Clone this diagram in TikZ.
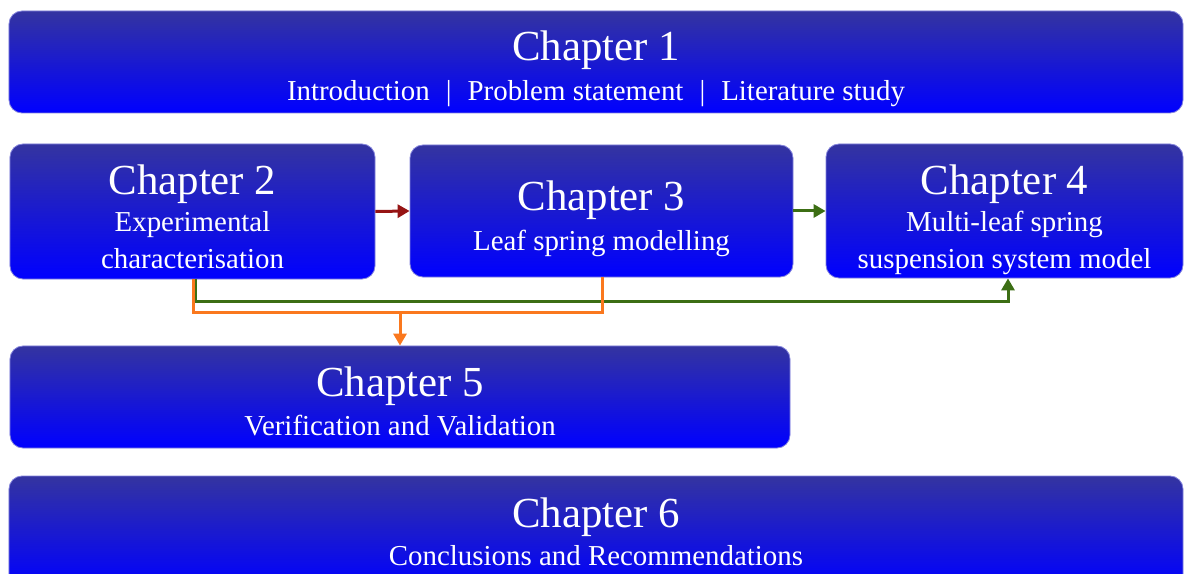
\documentclass[tikz,border=0pt]{standalone}
\usepackage{fontspec}
\setmainfont{Liberation Serif}
\usetikzlibrary{arrows.meta}
\definecolor{boxtop}{RGB}{52,52,160}
\definecolor{boxbot}{RGB}{0,0,255}
\definecolor{boxedge}{RGB}{130,130,220}
\definecolor{arred}{RGB}{150,20,20}
\definecolor{argreen}{RGB}{60,110,20}
\definecolor{arorange}{RGB}{250,120,30}
\newcommand{\chtitle}[2]{{\fontsize{43}{38}\selectfont\rule{0pt}{#1bp}#2}}
\newcommand{\sep}{\hspace{16bp}|\hspace{16bp}}
\begin{document}
\begin{tikzpicture}[x=1bp,y=-1bp,
  chbox/.style={rounded corners=13bp, top color=boxtop, bottom color=boxbot,
    draw=boxedge, line width=0.8bp, text=white, align=center, inner sep=0pt,
    font=\fontsize{29}{37}\selectfont},
  conn/.style={line width=3bp},
  tip/.style={-{Triangle[length=12bp,width=13bp]}}
]
\useasboundingbox (0,0) rectangle (1189,574);
\fill[white] (0,0) rectangle (1189,574);

\node[chbox, minimum width=1174bp, minimum height=102bp] (b1) at (596,62)
  {\chtitle{44}{Chapter 1}\\[3bp]Introduction\sep Problem statement\sep Literature study};
\node[chbox, minimum width=365bp, minimum height=135bp] (b2) at (192.5,211.5)
  {\chtitle{40}{Chapter 2}\\Experimental\\characterisation};
\node[chbox, minimum width=383bp, minimum height=132bp] (b3) at (601.5,211)
  {\chtitle{45}{Chapter 3}\\[3bp]Leaf spring modelling};
\node[chbox, minimum width=357bp, minimum height=134bp] (b4) at (1004.5,211)
  {\chtitle{47}{Chapter 4}\\Multi-leaf spring\\suspension system model};
\node[chbox, minimum width=780bp, minimum height=102bp] (b5) at (400,397)
  {\chtitle{38}{Chapter 5}\\[2bp]Verification and Validation};
\node[chbox, minimum width=1174bp, minimum height=112bp] (b6) at (596,532)
  {\chtitle{29}{Chapter 6}\\[1bp]Conclusions and Recommendations};

\coordinate (gs) at (195,302);
\coordinate (ge) at (1008,302);
\coordinate (os) at (193,312);
\coordinate (oe) at (602,312);
\coordinate (om) at (400,312);

\draw[conn, arred, tip] (b2.east) -- (b3.west);
\draw[conn, argreen, tip] (b3.east) -- (b4.west);
\draw[conn, argreen, tip] (b2.south -| gs) -- (gs) -- (ge) -- (b4.south -| ge);
\draw[conn, arorange] (b2.south -| os) -- (os) -- (oe) -- (b3.south -| oe);
\draw[conn, arorange, tip] (om) -- (b5.north -| om);
\end{tikzpicture}
\end{document}
